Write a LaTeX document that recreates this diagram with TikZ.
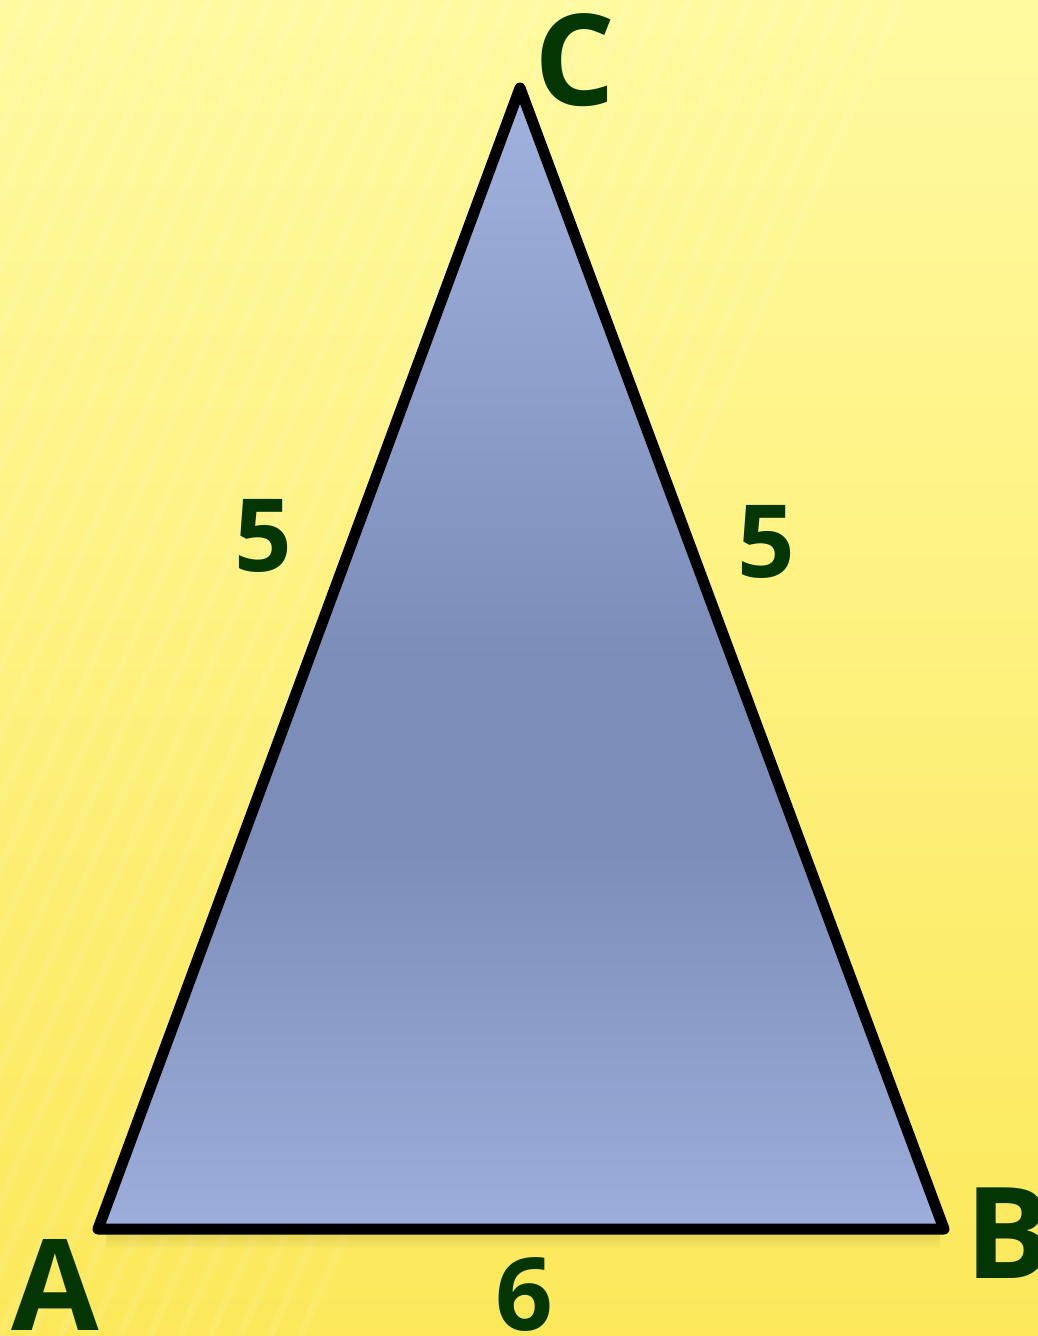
\documentclass[tikz,border=0pt]{standalone}
\usepackage{fontspec}
\setmainfont{Open Sans}
\usetikzlibrary{calc}
\definecolor{lbl}{RGB}{4,54,4}
\definecolor{bgtop}{RGB}{255,250,160}
\definecolor{bgbot}{RGB}{252,232,90}
\definecolor{tritop}{RGB}{162,178,222}
\definecolor{trimid}{RGB}{124,141,185}
\definecolor{tribot}{RGB}{158,174,220}
\pgfdeclareverticalshading{trishade}{100bp}{color(0bp)=(tribot); color(25bp)=(tribot); color(42bp)=(trimid); color(50bp)=(trimid); color(75bp)=(tritop); color(100bp)=(tritop)}
\tikzset{
  vlabel/.style={text=lbl, font=\bfseries\fontsize{127}{127}\selectfont, inner sep=0pt, anchor=base},
  slabel/.style={text=lbl, font=\bfseries\fontsize{101}{101}\selectfont, inner sep=0pt, anchor=base},
  edge/.style={line width=11pt, line join=round, line cap=round, draw=black}
}
\begin{document}
\begin{tikzpicture}[x=1pt,y=-1pt]
\useasboundingbox (0,0) rectangle (1038,1336);
\shade[top color=bgtop, bottom color=bgbot] (0,0) rectangle (1038,1336);
% faint stripes
\foreach \i in {-600,-570,...,300}{
  \draw[white, opacity=0.09, line width=8pt] (\i+600,0) -- (\i,1336);
}
\coordinate (A) at (98,1229);
\coordinate (B) at (944,1229);
\coordinate (C) at (520,88);
% soft shadow under base
\foreach \d in {1,...,18}{
  \draw[black!70!brown, opacity={0.05*(1-\d/20)}, line width=3pt] ($(A)+(8,\d)$) -- ($(B)+(-4,\d)$);
}
\shade[shading=trishade] (A) -- (B) -- (C) -- cycle;
\draw[edge] (A) -- (B) -- (C) -- cycle;
\node[vlabel] (lC) at (575,105) {C};
\node[vlabel] (lA) at (55,1330) {A};
\node[vlabel] (lB) at (1008,1278) {B};
\node[slabel] (lAC) at (263,571) {5};
\node[slabel] (lBC) at (766,577) {5};
\node[slabel] (lAB) at (524,1330) {6};
\end{tikzpicture}
\end{document}
